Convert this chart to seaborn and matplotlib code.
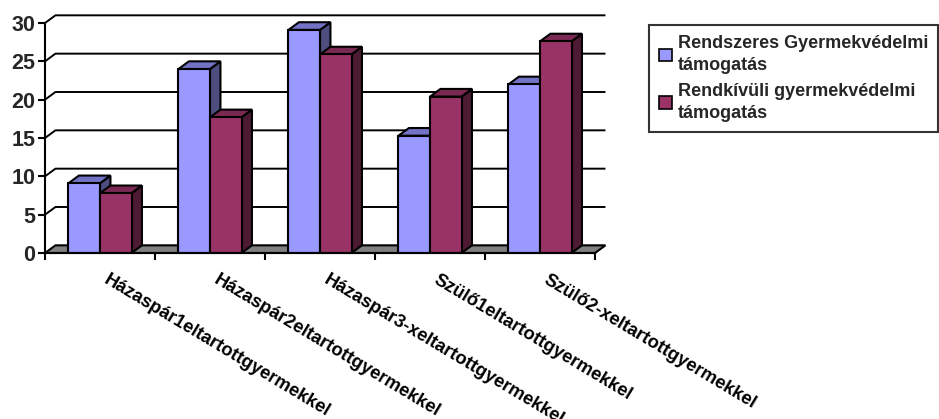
import matplotlib
matplotlib.use("Agg")
import matplotlib.pyplot as plt
import seaborn as sns
import pandas as pd
from matplotlib.patches import Polygon, Patch

categories = ["Házaspár1eltartottgyermekkel", "Házaspár2eltartottgyermekkel",
              "Házaspár3-xeltartottgyermekkel", "Szülő1eltartottgyermekkel",
              "Szülő2-xeltartottgyermekkel"]
series_names = ["Rendszeres Gyermekvédelmi\ntámogatás", "Rendkívüli gyermekvédelmi\ntámogatás"]
rendszeres = [9.1, 24.0, 29.1, 15.3, 22.0]
rendkivuli = [7.8, 17.7, 25.9, 20.4, 27.6]
yticks = [0, 5, 10, 15, 20, 25, 30]

front_cols = ["#9999FF", "#993366"]
top_cols = ["#7373C6", "#7A2952"]
side_cols = ["#4D4D80", "#4D1A33"]

df = pd.DataFrame({
    "cat": categories * 2,
    "val": rendszeres + rendkivuli,
    "ser": [series_names[0]] * 5 + [series_names[1]] * 5,
})

sns.set_theme(style="white")
plt.rcParams["font.family"] = ["Liberation Sans", "DejaVu Sans"]
plt.rcParams["font.weight"] = "bold"

W, H = 939, 419
fig = plt.figure(figsize=(W / 100, H / 100), dpi=100)
dx, dy = 0.095, 1.0
ymax = 31.0
ppu = 7.667
left_px, right_px = 45, 45 + 110 * (5 + dx)
bot_px = 253
top_px = bot_px - ymax * ppu
ax = fig.add_axes([left_px / W, 1 - bot_px / H, (right_px - left_px) / W, (bot_px - top_px) / H])

sns.barplot(data=df, x="cat", y="val", hue="ser", palette=front_cols, width=0.573,
            ax=ax, legend=False, edgecolor="black", linewidth=1.5, saturation=1, zorder=3)

ax.set_xlim(-0.5, 4.5 + dx)
ax.set_ylim(0, ymax)

# 3D faces
bars = [p for p in ax.patches]
for i, p in enumerate(bars):
    k = 0 if i < 5 else 1
    x0 = p.get_x(); x1 = x0 + p.get_width(); h = p.get_height()
    p.set_zorder(3)
    top = Polygon([(x0, h), (x0 + dx, h + dy), (x1 + dx, h + dy), (x1, h)], closed=True,
                  facecolor=top_cols[k], edgecolor="black", lw=1.5, zorder=2.6)
    side = Polygon([(x1, 0), (x1 + dx, dy), (x1 + dx, h + dy), (x1, h)], closed=True,
                   facecolor=side_cols[k], edgecolor="black", lw=1.5, zorder=2.4)
    ax.add_patch(top); ax.add_patch(side)

# floor
floor = Polygon([(-0.5, 0), (4.5, 0), (4.5 + dx, dy), (-0.5 + dx, dy)], closed=True,
                facecolor="#808080", edgecolor="black", lw=1.5, zorder=1.5, clip_on=False)
ax.add_patch(floor)

# back-wall gridlines
for v in yticks[1:]:
    ax.plot([-0.5, -0.5 + dx, 4.5 + dx], [v, v + dy, v + dy], color="black", lw=1.4,
            zorder=1, clip_on=False, solid_capstyle="butt")

for s in ["top", "right"]:
    ax.spines[s].set_visible(False)
ax.spines["left"].set_bounds(0, 30)
ax.spines["bottom"].set_bounds(-0.5, 4.5)
for s in ["left", "bottom"]:
    ax.spines[s].set_color("black"); ax.spines[s].set_linewidth(1.5); ax.spines[s].set_zorder(4)

ax.set_yticks(yticks)
ax.set_yticklabels([str(t) for t in yticks], fontsize=15.5, fontweight="bold")
ax.set_xticks([-0.5 + i for i in range(6)])
ax.set_xticklabels([])
ax.tick_params(axis="both", direction="out", length=5, width=1.5, color="black", pad=2,
               left=True, bottom=True)
ax.set_xlabel(""); ax.set_ylabel("")

for i, c in enumerate(categories):
    ax.text(i + 0.085, -2.45, c, rotation=-31, rotation_mode="anchor", ha="left", va="top",
            fontsize=13.2, fontweight="bold", color="black", clip_on=False)

handles = [Patch(facecolor=front_cols[k], edgecolor="black", lw=1.2, label=series_names[k]) for k in range(2)]
leg = fig.legend(handles=handles, loc="upper left",
                 bbox_to_anchor=(649 / W, 1 - 25 / H, 289 / W, 0), mode="expand",
                 frameon=True, fancybox=False, edgecolor="black",
                 prop={"weight": "bold", "size": 13}, handlelength=0.7, handleheight=0.7,
                 handletextpad=0.35, borderpad=0.55, labelspacing=0.45, borderaxespad=0)
for t in leg.get_texts():
    t.set_linespacing(1.42)
leg.get_frame().set_linewidth(1.5)

fig.savefig("out.png", dpi=100, facecolor="white")
